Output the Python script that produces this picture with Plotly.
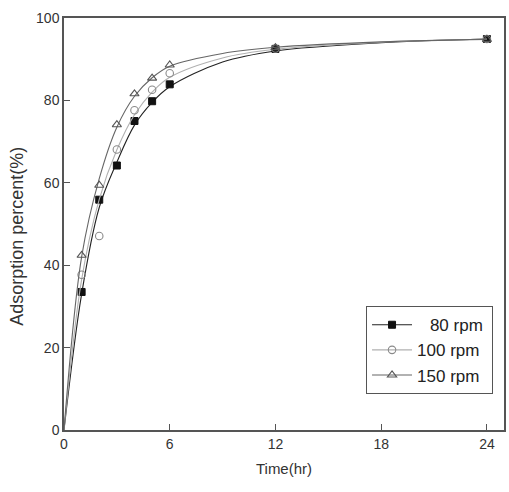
import plotly.graph_objects as go

# measured points
time_hr = [1, 2, 3, 4, 5, 6, 12, 24]
rpm80 = [33.5, 55.9, 64.2, 75.0, 79.8, 83.9, 92.5, 94.9]
rpm100 = [37.7, 47.1, 68.1, 77.6, 82.6, 86.6, 92.6, 94.9]
rpm150 = [42.4, 59.4, 74.1, 81.6, 85.4, 88.6, 92.8, 94.8]

# fitted curves
fit_t = [0, 1, 2, 3, 4, 5, 6, 9, 12, 18, 24]
fit80 = [0, 33.0, 54.0, 65.0, 74.0, 79.5, 83.3, 89.3, 92.0, 94.0, 94.9]
fit100 = [0, 36.5, 56.0, 68.0, 76.5, 82.0, 85.6, 90.3, 92.4, 94.1, 94.9]
fit150 = [0, 42.0, 61.0, 73.5, 81.0, 85.5, 88.3, 91.4, 92.9, 94.2, 94.8]

series_names = ["\u2007\u200980 rpm\u2009", "100 rpm\u2009", "150 rpm\u2009"]
x_ticks = [0, 6, 12, 18, 24]
y_ticks = [0, 20, 40, 60, 80, 100]
x_title = "Time(hr)"
y_title = "Adsorption percent(%)"

FONT = "Liberation Sans, Arial, sans-serif"

styles = [
    dict(lc="#222222", marker=dict(symbol="square", color="#111111", size=7,
                                   line=dict(color="#111111", width=1))),
    dict(lc="#b0b0b0", marker=dict(symbol="circle-open", color="#8a8a8a", size=7.5,
                                   line=dict(width=1.1))),
    dict(lc="#666666", marker=dict(symbol="triangle-up-open", color="#555555", size=8,
                                   line=dict(width=1.1))),
]

def gapped(vals):
    out = []
    for v in vals:
        out += [v, None]
    return out[:-1]

fig = go.Figure()
for name, vals, fit, st in zip(series_names, [rpm80, rpm100, rpm150],
                               [fit80, fit100, fit150], styles):
    fig.add_trace(go.Scatter(
        x=fit_t, y=fit, mode="lines", showlegend=False, hoverinfo="skip",
        line=dict(color=st["lc"], width=1.1, shape="spline", smoothing=1.0),
    ))
    fig.add_trace(go.Scatter(
        x=gapped(time_hr), y=gapped(vals), name=name, mode="lines+markers",
        connectgaps=False,
        line=dict(color=st["lc"], width=1.1),
        marker=st["marker"],
    ))

axis_common = dict(
    showline=True, linecolor="#555555", linewidth=1.5, mirror=True,
    ticks="inside", ticklen=6, tickwidth=1.2, tickcolor="#555555",
    showgrid=False, zeroline=False,
    tickfont=dict(family=FONT, size=14, color="#333333"),
)

fig.update_layout(
    width=509, height=492,
    margin=dict(l=64, r=3, t=18, b=62),
    paper_bgcolor="white", plot_bgcolor="white",
    font=dict(family=FONT, color="#333333"),
    showlegend=True,
    legend=dict(
        x=0.686, y=0.301, xanchor="left", yanchor="top",
        bordercolor="#555555", borderwidth=1.2, bgcolor="white",
        font=dict(family=FONT, size=17, color="#222222"),
        tracegroupgap=0, itemwidth=40,
    ),
    xaxis=dict(axis_common, range=[0, 24.97], tickvals=x_ticks,
               title=dict(text=x_title, font=dict(family=FONT, size=15, color="#333333"), standoff=13)),
    yaxis=dict(axis_common, range=[0, 100], tickvals=y_ticks),
    annotations=[dict(
        text=y_title, textangle=-90, showarrow=False,
        xref="paper", yref="paper", x=-0.106, y=0.47,
        xanchor="center", yanchor="middle",
        font=dict(family=FONT, size=18, color="#333333"),
    )],
)

fig.write_html("out.html")
